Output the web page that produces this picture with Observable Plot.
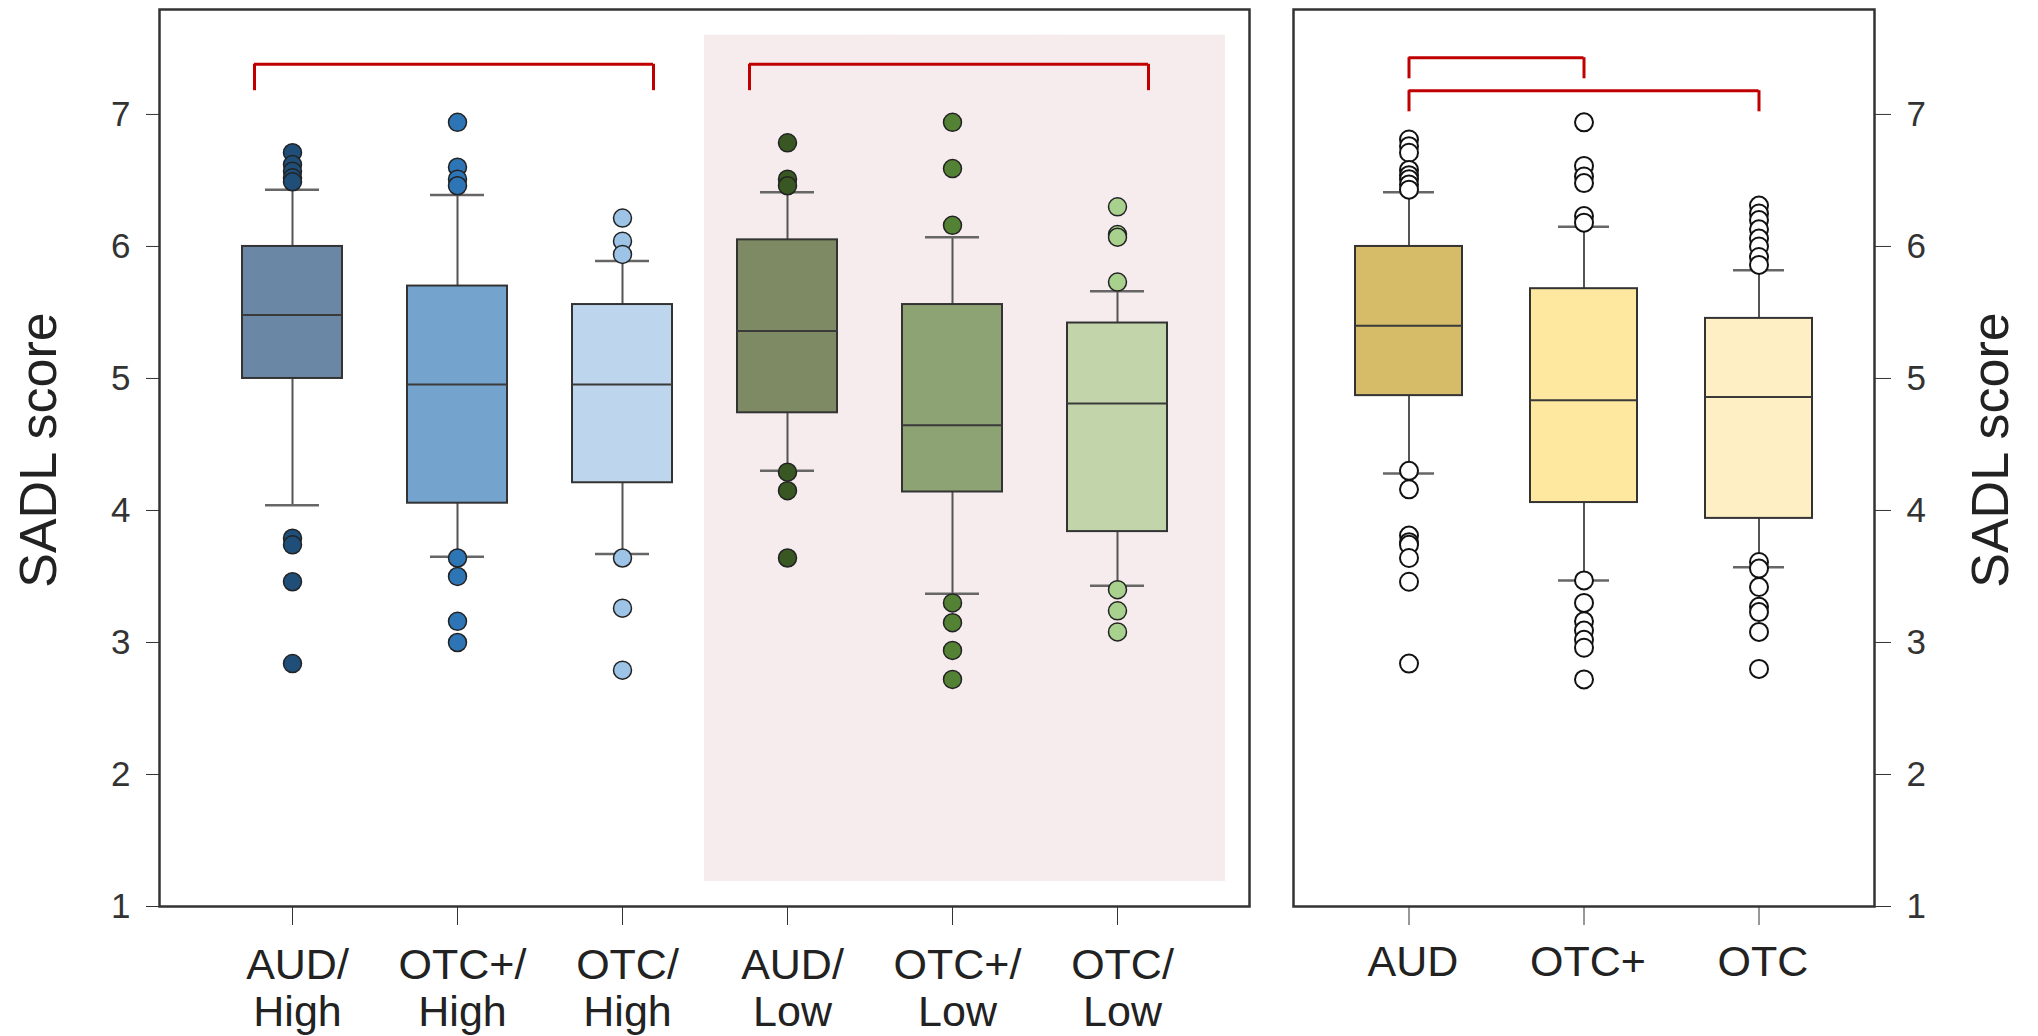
<!DOCTYPE html>
<html>
<head>
<meta charset="utf-8">
<script src="https://cdn.jsdelivr.net/npm/d3@7"></script>
<script src="https://cdn.jsdelivr.net/npm/@observablehq/plot@0.6"></script>
<style>
  body { margin: 0; background: #ffffff; }
  #wrap { position: relative; width: 2038px; height: 1036px; overflow: hidden; }
  #left { position: absolute; left: 0; top: 0; }
  #right { position: absolute; left: 1262px; top: 0; }
</style>
</head>
<body>
<div id="wrap"><div id="left"></div><div id="right"></div></div>
<script>
// ---------- Left panel: group x level ----------
const groupCats   = ["AUD/High", "OTC+/High", "OTC/High", "AUD/Low", "OTC+/Low", "OTC/Low"];
const groupLabels = ["AUD/\nHigh", "OTC+/\nHigh", "OTC/\nHigh", "AUD/\nLow", "OTC+/\nLow", "OTC/\nLow"];
const groupQ1     = [5.00, 4.055, 4.21, 4.74, 4.14, 3.84];
const groupMedian = [5.48, 4.955, 4.955, 5.36, 4.645, 4.81];
const groupQ3     = [6.00, 5.70, 5.56, 6.05, 5.56, 5.42];
const groupWhiskerLow  = [4.04, 3.65, 3.67, 4.30, 3.37, 3.43];
const groupWhiskerHigh = [6.43, 6.39, 5.89, 6.41, 6.07, 5.66];
const groupOutliers = [
  [6.71, 6.62, 6.57, 6.52, 6.49, 3.79, 3.74, 3.46, 2.84],
  [6.94, 6.60, 6.51, 6.46, 3.64, 3.50, 3.16, 3.00],
  [6.215, 6.04, 5.94, 3.64, 3.26, 2.79],
  [6.785, 6.51, 6.46, 4.29, 4.15, 3.64],
  [6.94, 6.59, 6.16, 3.30, 3.15, 2.94, 2.72],
  [6.30, 6.09, 6.07, 5.73, 3.40, 3.24, 3.08]
];
const groupBoxColors = ["#6a88a6", "#74a3cd", "#bdd5ed", "#7d8a64", "#8ea373", "#c2d4a9"];
const groupDotColors = ["#1f4e79", "#2e75b6", "#9dc3e6", "#385723", "#548235", "#a9d18e"];
const lowCats = ["AUD/Low", "OTC+/Low", "OTC/Low"];
const lowBand = {from: 1.19, to: 7.6};
const groupBrackets = [
  {from: "AUD/High", to: "OTC/High", top: 7.38, end: 7.18},
  {from: "AUD/Low",  to: "OTC/Low",  top: 7.38, end: 7.18}
];

// ---------- Right panel: overall ----------
const overallCats   = ["AUD", "OTC+", "OTC"];
const overallQ1     = [4.87, 4.06, 3.94];
const overallMedian = [5.40, 4.835, 4.86];
const overallQ3     = [6.00, 5.68, 5.455];
const overallWhiskerLow  = [4.28, 3.47, 3.57];
const overallWhiskerHigh = [6.41, 6.15, 5.82];
const overallOutliers = [
  [6.81, 6.76, 6.71, 6.58, 6.54, 6.51, 6.47, 6.43, 4.30, 4.16, 3.81, 3.76, 3.74, 3.64, 3.46, 2.84],
  [6.94, 6.61, 6.53, 6.48, 6.23, 6.18, 3.47, 3.30, 3.16, 3.09, 3.02, 2.96, 2.72],
  [6.31, 6.25, 6.20, 6.13, 6.06, 6.00, 5.92, 5.86, 3.61, 3.56, 3.42, 3.27, 3.23, 3.08, 2.80]
];
const overallBoxColors = ["#d6bc68", "#fee79f", "#feefc5"];
const overallBrackets = [
  {from: "AUD", to: "OTC+", top: 7.43, end: 7.27},
  {from: "AUD", to: "OTC",  top: 7.18, end: 7.02}
];

const yTicks = [1, 2, 3, 4, 5, 6, 7];
const yDomain = [1, 7.795];
const yTitle = "SADL score";

const FONT = "'Liberation Sans', Arial, Helvetica, sans-serif";
const RED = "#c00000";

function boxTable(cats, q1, med, q3, wl, wh, colors) {
  return cats.map((c, i) => ({cat: c, q1: q1[i], med: med[i], q3: q3[i], wl: wl[i], wh: wh[i], color: colors[i]}));
}
function outlierTable(cats, outs, colors) {
  return cats.flatMap((c, i) => outs[i].map(v => ({cat: c, v, color: colors ? colors[i] : "#ffffff"})));
}

function boxMarks(table, outliers, capInset, dotStroke, dotStrokeWidth) {
  return [
    Plot.ruleX(table, {x: "cat", y1: "wl", y2: "wh", stroke: "#555", strokeWidth: 2}),
    Plot.tickY(table, {x: "cat", y: "wh", stroke: "#666", strokeWidth: 2.5, insetLeft: capInset, insetRight: capInset}),
    Plot.tickY(table, {x: "cat", y: "wl", stroke: "#666", strokeWidth: 2.5, insetLeft: capInset, insetRight: capInset}),
    Plot.barY(table, {x: "cat", y1: "q1", y2: "q3", fill: "color", stroke: "#333", strokeWidth: 2}),
    Plot.tickY(table, {x: "cat", y: "med", stroke: "#3a3a3a", strokeWidth: 2}),
    Plot.dot(outliers, {x: "cat", y: "v", r: 9, fill: "color", stroke: dotStroke, strokeWidth: dotStrokeWidth})
  ];
}

// ----- Left plot -----
const leftTable = boxTable(groupCats, groupQ1, groupMedian, groupQ3, groupWhiskerLow, groupWhiskerHigh, groupBoxColors);
const leftOut = outlierTable(groupCats, groupOutliers, groupDotColors);

const leftPlot = Plot.plot({
  width: 1262,
  height: 1036,
  marginLeft: 159,
  marginRight: 13,
  marginTop: 9,
  marginBottom: 130,
  style: {fontFamily: FONT, fontSize: "35px", color: "#333", background: "transparent", overflow: "visible"},
  x: {type: "band", domain: groupCats, paddingInner: 0.396, paddingOuter: 0.5, tickSize: 19, tickPadding: 0, tickFormat: () => "", label: null},
  y: {domain: yDomain, ticks: yTicks, tickSize: 13, tickPadding: 16, tickFormat: d => String(d), label: null},
  marks: [
    Plot.barY(lowCats, {x: d => d, y1: lowBand.from, y2: lowBand.to, fill: "#f6eced", insetLeft: -33, insetRight: -58}),
    ...boxMarks(leftTable, leftOut, 23, "#222", 1.5),
    Plot.ruleY(groupBrackets, {x1: "from", x2: "to", y: "top", stroke: RED, strokeWidth: 3, insetLeft: 12, insetRight: 19}),
    Plot.ruleX(groupBrackets, {x: "from", y1: "end", y2: "top", stroke: RED, strokeWidth: 3, dx: -38}),
    Plot.ruleX(groupBrackets, {x: "to", y1: "end", y2: "top", stroke: RED, strokeWidth: 3, dx: 31}),
    Plot.text(groupCats, {x: d => d, text: (d, i) => groupLabels[i], frameAnchor: "bottom", lineAnchor: "top", dy: 39, dx: 5, fontSize: 43, lineHeight: 1.1, fill: "#222"}),
    Plot.text([yTitle], {frameAnchor: "left", text: d => d, rotate: -90, textAnchor: "middle", lineAnchor: "middle", dx: -120, dy: -8, fontSize: 52, fill: "#222"}),
    Plot.frame({stroke: "#333", strokeWidth: 2.5})
  ]
});
document.getElementById("left").append(leftPlot);

// ----- Right plot -----
const rightTable = boxTable(overallCats, overallQ1, overallMedian, overallQ3, overallWhiskerLow, overallWhiskerHigh, overallBoxColors);
const rightOut = outlierTable(overallCats, overallOutliers, null);

const rightPlot = Plot.plot({
  width: 776,
  height: 1036,
  marginLeft: 31,
  marginRight: 164,
  marginTop: 9,
  marginBottom: 130,
  style: {fontFamily: FONT, fontSize: "35px", color: "#333", background: "transparent", overflow: "visible"},
  x: {type: "band", domain: overallCats, paddingInner: 0.389, paddingOuter: 0.354, tickSize: 19, tickPadding: 0, tickFormat: () => "", label: null},
  y: {axis: "right", domain: yDomain, ticks: yTicks, tickSize: 16, tickPadding: 16, tickFormat: d => String(d), label: null},
  marks: [
    ...boxMarks(rightTable, rightOut, 28, "#111", 2),
    Plot.ruleY(overallBrackets, {x1: "from", x2: "to", y: "top", stroke: RED, strokeWidth: 3, insetLeft: 53.5, insetRight: 53.5}),
    Plot.ruleX(overallBrackets, {x: "from", y1: "end", y2: "top", stroke: RED, strokeWidth: 3}),
    Plot.ruleX(overallBrackets, {x: "to", y1: "end", y2: "top", stroke: RED, strokeWidth: 3}),
    Plot.text(overallCats, {x: d => d, text: d => d, frameAnchor: "bottom", lineAnchor: "top", dy: 39, dx: 4, fontSize: 43, fill: "#222"}),
    Plot.text([yTitle], {frameAnchor: "right", text: d => d, rotate: -90, textAnchor: "middle", lineAnchor: "middle", dx: 117, dy: -8, fontSize: 52, fill: "#222"}),
    Plot.frame({stroke: "#333", strokeWidth: 2.5})
  ]
});
document.getElementById("right").append(rightPlot);
</script>
</body>
</html>
